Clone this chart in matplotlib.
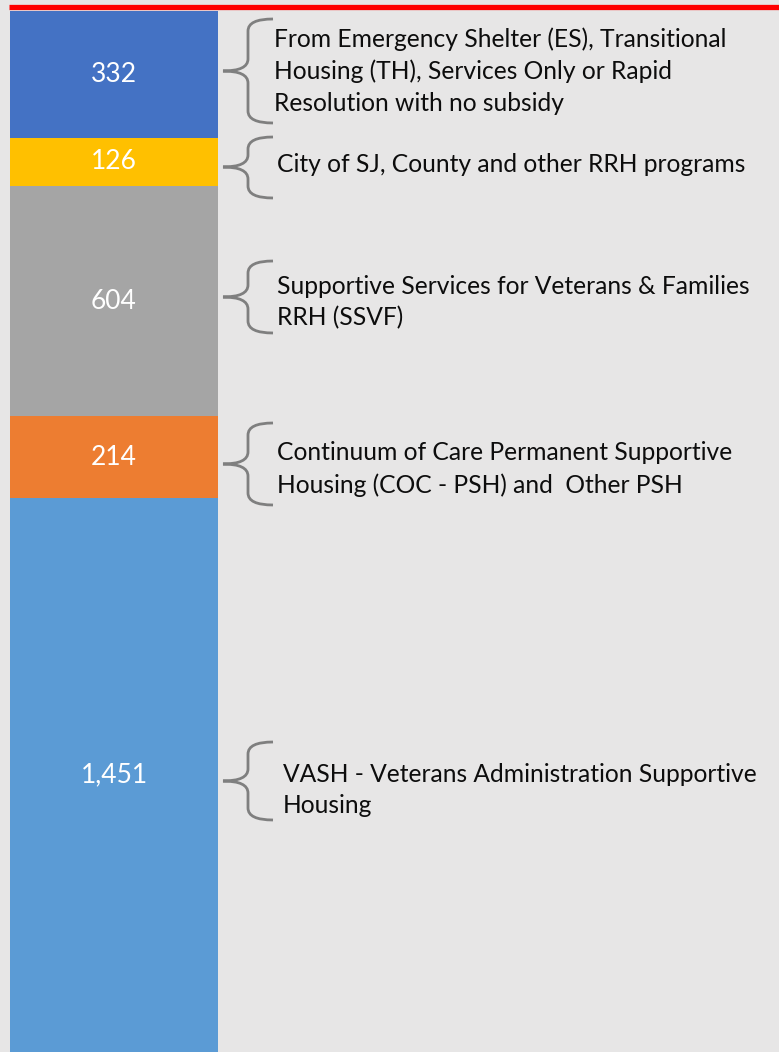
import matplotlib
matplotlib.use("Agg")
import matplotlib.pyplot as plt
from matplotlib.path import Path
from matplotlib.patches import PathPatch

# stacked segments, bottom to top
valores = [1451, 214, 604, 126, 332]
rotulos = ["1,451", "214", "604", "126", "332"]
cores = ["#5b9bd5", "#ed7d31", "#a5a5a5", "#ffc000", "#4472c4"]
descricoes = [
    "VASH - Veterans Administration Supportive\nHousing",
    "Continuum of Care Permanent Supportive\nHousing (COC - PSH) and  Other PSH",
    "Supportive Services for Veterans & Families\nRRH (SSVF)",
    "City of SJ, County and other RRH programs",
    "From Emergency Shelter (ES), Transitional\nHousing (TH), Services Only or Rapid\nResolution with no subsidy",
]

# brace geometry in pixels: (top, tip, bottom, text x, text y)
chaves = [(742, 781, 820, 283, 790), (423, 464, 505, 277, 469),
          (261, 297, 333, 277, 302), (137, 167, 198, 277, 164),
          (19, 71, 123, 274, 71)]

FONTE = ["Lato", "DejaVu Sans"]
fundo = "#e7e6e6"

fig = plt.figure(figsize=(7.79, 10.52), dpi=100, facecolor=fundo)
ax = fig.add_axes([0, 0, 1, 1], facecolor=fundo)
total = sum(valores)
esc = 1041 / total
ax.set_ylim(0, total + 11 / esc)
ax.set_xlim(-0.5 - 10 / 208, 0.5 + (779 - 218) / 208)
ax.axis("off")

base = 0
for v, r, c in zip(valores, rotulos, cores):
    ax.bar(0, v, width=1, bottom=base, color=c, edgecolor="none")
    ax.text(0, base + v / 2, r, ha="center", va="center", color="white",
            fontsize=19, family=FONTE)
    base += v

# overlay in pixel coords
ov = fig.add_axes([0, 0, 1, 1], facecolor="none")
ov.set_xlim(0, 779)
ov.set_ylim(1052, 0)
ov.axis("off")

ov.plot([9, 779], [6.5, 6.5], color="#ff0000", lw=3.8, solid_capstyle="butt")

def chave(top, tip, bot, xt=223, xv=248, xe=273, r=12):
    verts = [(xe, top), (xv, top), (xv, top + r),
             (xv, tip - r), (xv, tip), (xt, tip),
             (xv, tip), (xv, tip + r),
             (xv, bot - r), (xv, bot), (xe, bot)]
    codes = [Path.MOVETO, Path.CURVE3, Path.CURVE3,
             Path.LINETO, Path.CURVE3, Path.CURVE3,
             Path.CURVE3, Path.CURVE3,
             Path.LINETO, Path.CURVE3, Path.CURVE3]
    ov.add_patch(PathPatch(Path(verts, codes), fill=False, edgecolor="#7f7f7f", lw=2))

for (top, tip, bot, xtx, ytx), d in zip(chaves, descricoes):
    chave(top, tip, bot)
    ov.text(xtx, ytx, d, ha="left", va="center", fontsize=17.7, family=FONTE,
            color="#0d0d0d", linespacing=1.45)

fig.savefig("out.png", dpi=100, facecolor=fundo)
